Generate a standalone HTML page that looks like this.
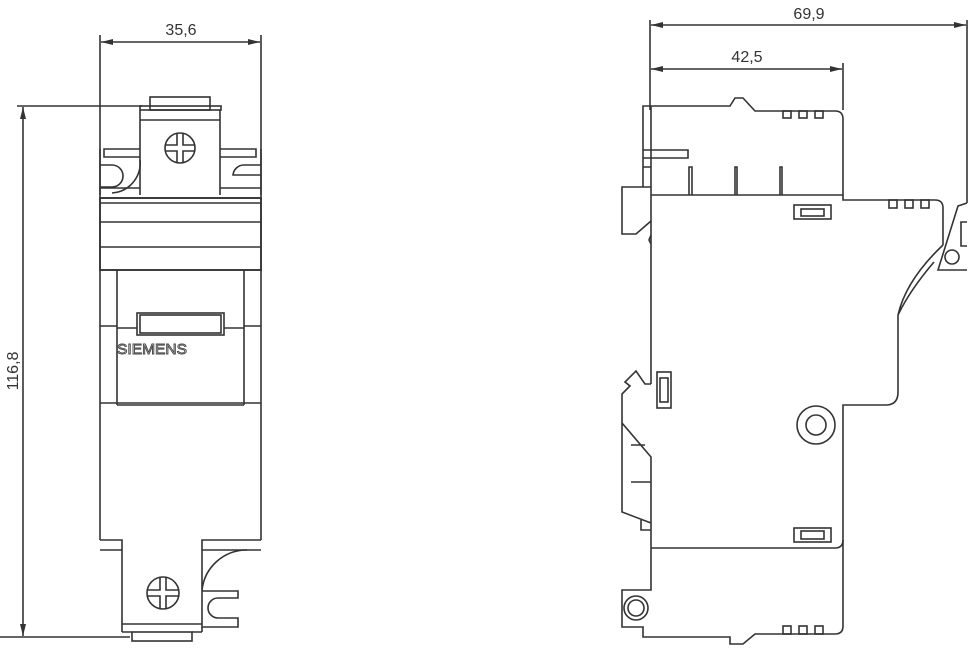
<!DOCTYPE html>
<html><head><meta charset="utf-8"><style>
html,body{margin:0;padding:0;background:#fff;}
svg{display:block;}
text{font-family:"Liberation Sans",Arial,sans-serif;fill:#333;}
</style></head><body>
<svg width="976" height="648" viewBox="0 0 976 648" xmlns="http://www.w3.org/2000/svg">
<defs>
<marker id="a" viewBox="0 0 12 6" refX="12" refY="3" markerWidth="12" markerHeight="6" orient="auto-start-reverse" markerUnits="userSpaceOnUse"><path d="M0,0 L12,3 L0,6 Z" fill="#333"/></marker>
</defs>
<g fill="none" stroke="#333" stroke-width="1.6">
<line x1="100" y1="35" x2="100" y2="200"/>
<line x1="261" y1="35" x2="261" y2="200"/>
<line x1="101" y1="42" x2="260" y2="42" marker-start="url(#a)" marker-end="url(#a)"/>
<line x1="17" y1="106" x2="142" y2="106"/>
<line x1="0" y1="637" x2="130" y2="637"/>
<line x1="23" y1="107" x2="23" y2="636" marker-start="url(#a)" marker-end="url(#a)"/>

<rect x="150" y="97" width="60" height="13"/>
<rect x="140" y="106" width="81" height="4"/>
<path d="M140,110 V195 M220,110 V195 M140,120 H220"/>
<circle cx="180" cy="148" r="15"/>
<path d="M177,133 V145 H165 M183,133 V145 H195 M177,163 V151 H165 M183,163 V151 H195"/>
<path d="M140,149 H104 V157 H140 M100,165 H112 A11,11 0 0 1 112,187 H100 M140,160 A30,30 0 0 1 112,193"/>
<path d="M220,149 H256 V157 H220 M261,165 H244 A11,11 0 0 0 233,175 H261 M100,149 V195 M261,149 V195 M100,188 H140 M220,188 H261"/>
<rect x="100" y="198" width="161" height="72" stroke-width="1.9"/>
<path d="M100,203 H261 M100,222 H261 M100,247 H261"/>
<path d="M100,270 V540 M261,270 V540"/>
<path d="M117,270 V405 M244,270 V405 M100,326 H117 M244,326 H261 M117,328 H137 M224,328 H244 M100,403 H261 M117,405 H244"/>
<rect x="137" y="313" width="87" height="22"/>
<rect x="140" y="315" width="81" height="18"/>
<path d="M100,540 H122 V550 H100 M261,540 H202 V550 H261 M122,550 V632 M202,550 V632 M122,624 H202 M122,632 H132 M192,632 H202"/>
<rect x="132" y="632" width="60" height="9"/>
<circle cx="163" cy="593" r="16"/>
<path d="M160,577 V590 H147 M166,577 V590 H179 M160,609 V596 H147 M166,609 V596 H179"/>
<path d="M202,590 A45,45 0 0 1 247,550"/>
<path d="M202,591 H238 V598 H218 A10,10 0 0 0 218,618 H238 V627 H202"/>

<line x1="650" y1="20" x2="650" y2="110"/>
<line x1="967" y1="20" x2="967" y2="203"/>
<line x1="843" y1="63" x2="843" y2="110"/>
<line x1="651" y1="25" x2="966" y2="25" marker-start="url(#a)" marker-end="url(#a)"/>
<line x1="651" y1="69" x2="842" y2="69" marker-start="url(#a)" marker-end="url(#a)"/>

<path d="M643,187 V106 H730 L735,98 H743 L755,111 H835 Q843,111 843,119 V200 H935 Q943,200 943,208 V245"/>
<path d="M651,106 V384 M651,195 H843"/>
<rect x="783" y="111" width="8" height="7"/>
<rect x="799" y="111" width="8" height="7"/>
<rect x="815" y="111" width="8" height="7"/>
<rect x="889" y="200" width="8" height="8"/>
<rect x="905" y="200" width="8" height="8"/>
<rect x="921" y="200" width="8" height="8"/>
<path d="M643,150 H688 V158 H643 M643,167 H651"/>
<path d="M689,195 V167 H692 V195 M735,195 V167 H737 V195 M780,195 V167 H782 V195"/>
<rect x="794" y="205" width="37" height="14"/>
<rect x="801" y="209" width="23" height="7"/>
<path d="M651,187 H622 V234 H636 L651,221 M651,235 L649,240 L651,244"/>
<path d="M967,203 L958,206 L938,270 H967 M967,222 H961 V246 H967"/>
<circle cx="952" cy="257" r="7"/>
<path d="M943,245 Q906,280 898,315 M934,262 Q910,290 898,315"/>
<path d="M898,315 V392 Q898,405 886,405 H843 V540 Q843,548 835,548 H651"/>
<circle cx="816" cy="425" r="19"/>
<circle cx="816" cy="425" r="10"/>
<rect x="657" y="372" width="14" height="36"/>
<rect x="660" y="378" width="8" height="24"/>
<rect x="794" y="528" width="37" height="14"/>
<rect x="801" y="531" width="23" height="8"/>
<path d="M651,384 H645 L636,371 L625,382 L630,386 L622,394 V512 L651,523 M622,423 L651,457 V548 M631,445 H645 M631,482 H651 M641,520 V530 H651"/>
<path d="M651,548 V590 H622 V627 H643 V637 H730 V644 H743 L755,634 H835 Q843,634 843,626 V540"/>
<circle cx="636" cy="608" r="12"/>
<circle cx="636" cy="608" r="8"/>
<rect x="783" y="626" width="8" height="8"/>
<rect x="799" y="626" width="8" height="8"/>
<rect x="815" y="626" width="8" height="8"/>
</g>
<text x="181" y="35" font-size="16" text-anchor="middle">35,6</text>
<text x="18" y="371" font-size="16" text-anchor="middle" transform="rotate(-90 18 371)">116,8</text>
<text x="809" y="19" font-size="16" text-anchor="middle">69,9</text>
<text x="747" y="62" font-size="16" text-anchor="middle">42,5</text>
<text x="117" y="354" font-size="15" style="fill:#fff;stroke:#444;stroke-width:0.9" textLength="70" lengthAdjust="spacingAndGlyphs">SIEMENS</text>
</svg>
</body></html>
